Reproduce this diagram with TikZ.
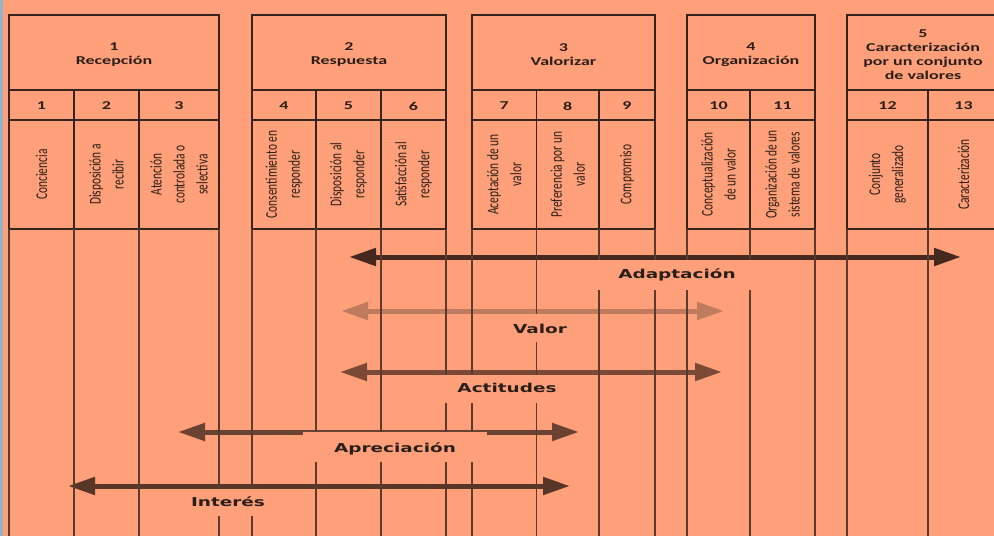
\documentclass[tikz,border=0pt]{standalone}
\usepackage{fontspec}
\usetikzlibrary{arrows.meta}
\newfontfamily\hdrfont[FakeStretch=1.5]{Carlito}
\newfontfamily\colfont[FakeStretch=0.7]{Carlito}
\newfontfamily\lblfont[FakeStretch=1.5]{DejaVu Sans}

\definecolor{bgc}{HTML}{FFA07A}
\definecolor{stripc}{HTML}{93B3C8}
\definecolor{boxc}{HTML}{35251E}
\definecolor{vlinec}{HTML}{5A3B2D}
\definecolor{txtc}{HTML}{2A1E18}
\definecolor{adapc}{HTML}{45291F}
\definecolor{valorc}{HTML}{BF7B60}
\definecolor{actc}{HTML}{7A4A36}
\definecolor{aprc}{HTML}{694232}
\definecolor{intc}{HTML}{573627}

\tikzset{
  cell/.style={draw=boxc, line width=1.8pt, inner sep=0pt, text=txtc},
  hdrtext/.style={align=center, text=txtc, font=\hdrfont\bfseries\fontsize{12}{14}\selectfont},
  coltext/.style={rotate=90, align=center, text=txtc, inner sep=0pt,
    font=\colfont\fontsize{16.3}{23}\selectfont},
  vline/.style={draw=vlinec, line width=1.8pt},
  gapbox/.style={fill=bgc, draw=none, inner sep=0pt},
  lbl/.style={text=txtc, inner sep=0pt, font=\lblfont\bfseries\fontsize{12.3}{14}\selectfont},
  arr/.style={line width=5pt,
    arrows={Triangle[length=27pt,width=17pt]-Triangle[length=27pt,width=17pt]}}
}

\begin{document}
\begin{tikzpicture}[x=1pt,y=-1pt]
\useasboundingbox (0,0) rectangle (994,536);
\clip (0,0) rectangle (994,536);
\fill[bgc] (0,0) rectangle (994,536);
\fill[stripc] (0,0) rectangle (3,536);

% group headers
\foreach \xa/\xb/\nm/\txt in {
    9/219/g1/{1\\Recepción},
    252/446/g2/{2\\Respuesta},
    472/655/g3/{3\\Valorizar},
    687/815/g4/{4\\Organización},
    847/999/g5/{5\\Caracterización\\por un conjunto\\de valores}} {
  \node[cell, minimum width={(\xb-\xa)*1pt}, minimum height=75pt] (\nm) at ({(\xa+\xb)/2},52.5) {};
  \node[hdrtext, yshift=-2.5pt] (\nm t) at (\nm) {\txt};
}

% numbered sub-columns with their rotated names
\foreach \xa/\xb/\cnum/\txt in {
    9/74/1/{Conciencia},
    74/139/2/{Disposición a\\recibir},
    139/219/3/{Atención\\controlada o\\selectiva},
    252/316/4/{Consentimiento en\\responder},
    316/381/5/{Disposición al\\responder},
    381/446/6/{Satisfacción al\\responder},
    472/536.5/7/{Aceptación de un\\valor},
    536.5/599/8/{Preferencia por un\\valor},
    599/655/9/{Compromiso},
    687/750/10/{Conceptualización\\de un valor},
    750/815/11/{Organización de un\\sistema de valores},
    847/928/12/{Conjunto\\generalizado},
    928/999/13/{Caracterización}} {
  \node[cell, minimum width={(\xb-\xa)*1pt}, minimum height=30pt] (n\cnum) at ({(\xa+\xb)/2},105) {};
  \node[hdrtext, yshift=-1pt] (n\cnum t) at (n\cnum) {\cnum};
  \node[cell, minimum width={(\xb-\xa)*1pt}, minimum height=109pt] (c\cnum) at ({(\xa+\xb)/2},174.5) {};
  \node[coltext] (c\cnum t) at (c\cnum) {\txt};
}

% arrow end points
\coordinate (adapL) at (349,257);  \coordinate (adapR) at (961,257);
\coordinate (valL)  at (341,311);  \coordinate (valR)  at (724,311);
\coordinate (actL)  at (340,372);  \coordinate (actR)  at (722,372);
\coordinate (aprL)  at (178,432);  \coordinate (aprR)  at (579,432);
\coordinate (intL)  at (68,486);   \coordinate (intR)  at (570,486);

% arrows
\draw[arr, adapc]  (adapL) -- (adapR);
\draw[arr, valorc] (valL) -- (valR);
\draw[arr, actc]   (actL) -- (actR);
\draw[arr, aprc]   (aprL) -- (aprR);
\draw[arr, intc]   (intL) -- (intR);

% column lines running below the table
\foreach \x in {9,74,139,219,252,316,381,446,472,536.5,599,655,687,750,815,847,928,999}
  \draw[vline] (\x,229) -- (\x,536);

% clear space under each arrow for its name
\node[gapbox, minimum width=200pt, minimum height=30pt] (gAdap) at (677,274.5) {};
\node[gapbox, minimum width=90pt,  minimum height=28pt] (gVal)  at (540,328) {};
\node[gapbox, minimum width=150pt, minimum height=28pt] (gAct)  at (507,388.5) {};
\node[gapbox, minimum width=184pt, minimum height=30pt] (gApr)  at (395,447) {};
\node[gapbox, minimum width=130pt, minimum height=27pt] (gInt)  at (228,502) {};

% arrow names
\node[lbl] (tAdap) at (677,275) {Adaptación};
\node[lbl] (tVal)  at (540,329) {Valor};
\node[lbl] (tAct)  at (507,388) {Actitudes};
\node[lbl] (tApr)  at (395,449) {Apreciación};
\node[lbl] (tInt)  at (228,502) {Interés};
\end{tikzpicture}
\end{document}
